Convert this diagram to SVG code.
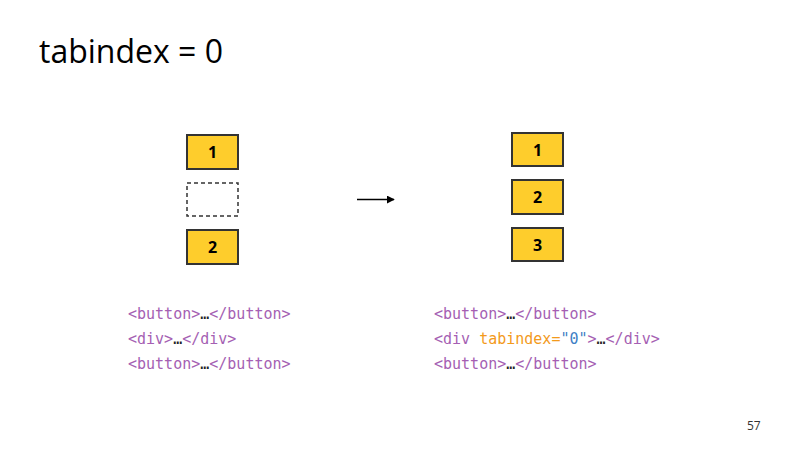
<svg xmlns="http://www.w3.org/2000/svg" width="800" height="450" viewBox="0 0 800 450">
<defs>
<style>
.title{font-family:"Open Sans","Noto Sans",sans-serif;font-size:32px;fill:#000}
.box{fill:#fecd2c;stroke:#333;stroke-width:2}
.dash{fill:none;stroke:#333;stroke-width:1.5;stroke-dasharray:4 3}
.num{font-family:"Open Sans","Noto Sans",sans-serif;font-size:16px;font-weight:bold;fill:#000;text-anchor:middle}
.code{font-family:"DejaVu Sans Mono",monospace;font-size:15px;fill:#a55fb3}
.dots{fill:#222}
.attr{fill:#f39a1c}
.val{fill:#3f7fc5}
.conn{stroke:#000;stroke-width:1.5;fill:none}
.page{font-family:"Open Sans","Noto Sans",sans-serif;font-size:12px;fill:#333}
</style>
<marker id="ah" viewBox="0 0 10 10" refX="9" refY="5" markerWidth="8" markerHeight="8" orient="auto" markerUnits="userSpaceOnUse">
<path d="M0,0 L10,5 L0,10 z" fill="#000"/>
</marker>
</defs>
<rect width="800" height="450" fill="#fff"/>
<text class="title" x="39" y="63">tabindex = 0</text>
<g id="left-1"><rect class="box" x="187" y="135" width="51" height="34"/><text class="num" x="212.5" y="158">1</text></g>
<g id="left-div"><rect class="dash" x="187" y="183" width="51" height="33"/></g>
<g id="left-2"><rect class="box" x="187" y="230" width="51" height="34"/><text class="num" x="212.5" y="253">2</text></g>
<g id="right-1"><rect class="box" x="512" y="133" width="51" height="33"/><text class="num" x="537.5" y="155.5">1</text></g>
<g id="right-2"><rect class="box" x="512" y="180" width="51" height="34"/><text class="num" x="537.5" y="203">2</text></g>
<g id="right-3"><rect class="box" x="512" y="228" width="51" height="33"/><text class="num" x="537.5" y="250.5">3</text></g>
<g id="connectors"><line class="conn" x1="357" y1="199.5" x2="394" y2="199.5" marker-end="url(#ah)"/></g>
<g id="code-left" class="code">
<text x="128" y="319">&lt;button&gt;<tspan class="dots">…</tspan>&lt;/button&gt;</text>
<text x="128" y="344">&lt;div&gt;<tspan class="dots">…</tspan>&lt;/div&gt;</text>
<text x="128" y="369">&lt;button&gt;<tspan class="dots">…</tspan>&lt;/button&gt;</text>
</g>
<g id="code-right" class="code">
<text x="434" y="319">&lt;button&gt;<tspan class="dots">…</tspan>&lt;/button&gt;</text>
<text x="434" y="344" xml:space="preserve">&lt;div <tspan class="attr">tabindex=</tspan><tspan class="val">"0"</tspan>&gt;<tspan class="dots">…</tspan>&lt;/div&gt;</text>
<text x="434" y="369">&lt;button&gt;<tspan class="dots">…</tspan>&lt;/button&gt;</text>
</g>
<text class="page" x="747" y="430">57</text>
</svg>
